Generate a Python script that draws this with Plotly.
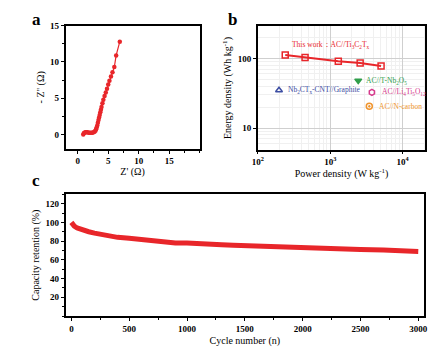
import math
import plotly.graph_objects as go

# Panel a: Nyquist
z_re = [0.9, 1.0, 1.1, 1.25, 1.4, 1.6, 1.8, 2.0, 2.2, 2.4, 2.6, 2.75, 2.9, 3.0, 3.1, 3.2, 3.3, 3.4, 3.5, 3.6, 3.7, 3.8, 3.9, 4.05, 4.2, 4.4, 4.6, 4.8, 5.0, 5.2, 5.45, 5.7, 6.0, 6.3, 6.9]
z_im = [0.0, 0.15, 0.25, 0.3, 0.32, 0.3, 0.25, 0.22, 0.22, 0.25, 0.3, 0.38, 0.5, 0.7, 0.95, 1.25, 1.6, 2.0, 2.35, 2.7, 3.05, 3.4, 3.8, 4.3, 4.8, 5.3, 5.8, 6.3, 6.9, 7.4, 8.0, 8.6, 9.3, 10.9, 12.8]

# Panel b: Ragone
this_p = [239, 449, 1294, 2594, 5047]
this_e = [112, 103, 91, 86, 78]
ref_names = ["Nb<sub>2</sub>CT<sub>x</sub>-CNT//Graphite", "AC//T-Nb<sub>2</sub>O<sub>5</sub>",
             "AC//Li<sub>4</sub>Ti<sub>5</sub>O<sub>12</sub>", "AC//N-carbon"]
ref_p = [196, 2440, 3770, 3470]
ref_e = [35, 48, 32.6, 20.6]
ref_colors = ["#3d4ea3", "#2f9e4a", "#d63a8c", "#f0952e"]
ref_symbols = ["triangle-up-open", "triangle-down", "hexagon-open", "circle-open-dot"]

# Panel c: cycling
cycles = [0, 10, 25, 50, 100, 150, 200, 300, 400, 500, 600, 700, 800, 900, 1000, 1100, 1200, 1300, 1400, 1500, 1700, 1900, 2000, 2100, 2300, 2500, 2700, 2900, 3000]
retention = [100, 98, 96, 94, 91.5, 90, 88.5, 86, 84, 83, 81.5, 80, 79, 78, 78, 77, 76, 76, 75.5, 75, 74, 73, 73, 72, 71.5, 71, 70.5, 69.5, 69]

RED = "#e8262a"
SERIF = "Liberation Serif"

fig = go.Figure()
fig.add_trace(go.Scatter(x=z_re, y=z_im, mode="lines+markers", xaxis="x", yaxis="y",
                         line=dict(color=RED, width=1.2), marker=dict(color=RED, size=4.5), showlegend=False))
fig.add_trace(go.Scatter(x=this_p, y=this_e, mode="lines+markers", xaxis="x2", yaxis="y2",
                         line=dict(color=RED, width=2),
                         marker=dict(symbol="square-open", color=RED, size=6, line=dict(width=1.5)), showlegend=False))
for p, e, c, s in zip(ref_p, ref_e, ref_colors, ref_symbols):
    fig.add_trace(go.Scatter(x=[p], y=[e], mode="markers", xaxis="x2", yaxis="y2",
                             marker=dict(symbol=s, color=c, size=6, line=dict(width=1.5, color=c)), showlegend=False))
fig.add_trace(go.Scatter(x=cycles, y=retention, mode="lines", xaxis="x3", yaxis="y3",
                         line=dict(color=RED, width=5), showlegend=False))

tickfont = dict(family=SERIF, size=9, color="black", weight="bold")
titlefont = dict(family=SERIF, size=10, color="black")
common = dict(showline=True, linecolor="black", linewidth=1.5, mirror=True, ticks="outside",
              ticklen=3, tickwidth=1, tickcolor="black", tickfont=tickfont, zeroline=False, showgrid=False)

fig.update_layout(
    width=445, height=351, margin=dict(l=0, r=0, t=0, b=0),
    paper_bgcolor="white", plot_bgcolor="white",
    xaxis=dict(domain=[0.137, 0.445], anchor="y", range=[-2, 20], tickvals=[0, 5, 10, 15],
               minor=dict(ticks="outside", ticklen=2, tickcolor="black", dtick=2.5),
               title=dict(text="Z' (Ω)", font=titlefont, standoff=3), **common),
    yaxis=dict(domain=[0.584, 0.940], anchor="x", range=[-2, 15], tickvals=[0, 5, 10, 15],
               minor=dict(ticks="outside", ticklen=2, tickcolor="black", dtick=2.5),
               title=dict(text="- Z'' (Ω)", font=titlefont, standoff=4), **common),
    xaxis2=dict(domain=[0.579, 0.964], anchor="y2", type="log", range=[2, 4.315],
                tickvals=[100, 1000, 10000], ticktext=["10<sup>2</sup>", "10<sup>3</sup>", "10<sup>4</sup>"],
                title=dict(text="Power density (W kg<sup>-1</sup>)", font=titlefont, standoff=3),
                **{**common, "showgrid": True, "gridcolor": "#cfcfcf", "gridwidth": 0.8},
                minor=dict(showgrid=True, gridcolor="#f0f0f0", ticks="", dtick="D1")),
    yaxis2=dict(domain=[0.582, 0.938], anchor="x2", type="log", range=[0.69, 2.46],
                tickvals=[10, 100], ticktext=["10", "100"],
                title=dict(text="Energy density (Wh kg<sup>-1</sup>)", font=titlefont, standoff=4),
                **{**common, "showgrid": True, "gridcolor": "#cfcfcf", "gridwidth": 0.8},
                minor=dict(showgrid=True, gridcolor="#f0f0f0", ticks="", dtick="D1")),
    xaxis3=dict(domain=[0.137, 0.961], anchor="y3", range=[-50, 3050], tickvals=[0, 500, 1000, 1500, 2000, 2500, 3000],
                minor=dict(ticks="outside", ticklen=2, tickcolor="black", dtick=250),
                title=dict(text="Cycle number (n)", font=titlefont, standoff=4), **common),
    yaxis3=dict(domain=[0.101, 0.453], anchor="x3", range=[0, 130], tickvals=[20, 40, 60, 80, 100, 120],
                minor=dict(ticks="outside", ticklen=2, tickcolor="black", dtick=10),
                title=dict(text="Capacity retention (%)", font=titlefont, standoff=4), **common),
)

annots = [
    dict(text="<b>a</b>", x=31 / 445, y=1 - 15 / 351),
    dict(text="<b>b</b>", x=232 / 445, y=1 - 15 / 351),
    dict(text="<b>c</b>", x=31 / 445, y=1 - 178 / 351),
]
for a in annots:
    fig.add_annotation(xref="paper", yref="paper", x=a["x"], y=a["y"], text=a["text"], showarrow=False,
                       font=dict(family=SERIF, size=17, color="black"), xanchor="center", yanchor="middle")

fig.add_annotation(xref="x2", yref="y2", x=3.01, y=2.20, text="This work：AC//Ti<sub>3</sub>C<sub>2</sub>T<sub>x</sub>",
                   showarrow=False, font=dict(family=SERIF, size=7.5, color=RED), xanchor="center")
label_x = [2.39, 3.47, 3.69, 3.65]
for name, lx, e, c in zip(ref_names, label_x, ref_e, ref_colors):
    fig.add_annotation(xref="x2", yref="y2", x=lx, y=math.log10(e), text=name, showarrow=False,
                       font=dict(family=SERIF, size=7.5, color=c), xanchor="left")

fig.write_html("out.html")
